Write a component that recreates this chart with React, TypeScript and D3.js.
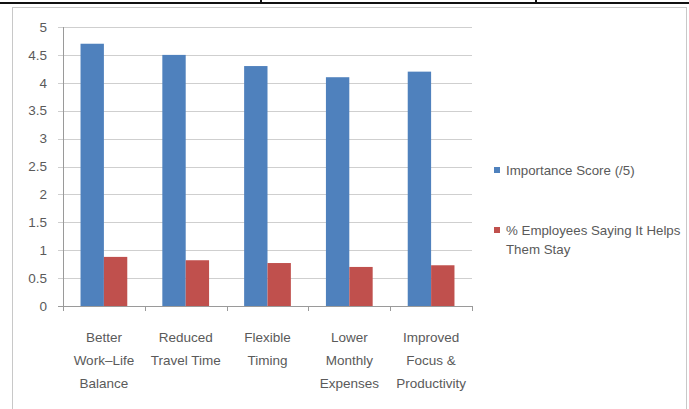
import React from 'react';
import * as d3 from 'd3';

const categories: string[][] = [
  ['Better', 'Work\u2013Life', 'Balance'],
  ['Reduced', 'Travel Time'],
  ['Flexible', 'Timing'],
  ['Lower', 'Monthly', 'Expenses'],
  ['Improved', 'Focus &', 'Productivity'],
];
const importanceScore = [4.7, 4.5, 4.3, 4.1, 4.2];
const pctStay = [0.88, 0.82, 0.77, 0.7, 0.73];
const yTicks = [0, 0.5, 1, 1.5, 2, 2.5, 3, 3.5, 4, 4.5, 5];
const legendBlue = ['Importance Score (/5)'];
const legendRed = ['% Employees Saying It Helps', 'Them Stay'];

const W = 689;
const H = 409;
const plot = { left: 63, right: 472, top: 27, bottom: 306 };
const colors = ['#4F81BD', '#C0504D'];
const textColor = '#5a5a5a';
const font = '"Liberation Sans", Arial, sans-serif';

const App: React.FC = () => {
  const x = d3
    .scaleBand<number>()
    .domain(d3.range(categories.length))
    .range([plot.left, plot.right]);
  const y = d3.scaleLinear().domain([0, 5]).range([plot.bottom, plot.top]);
  const barW = x.bandwidth() / 3.5;
  const series = [importanceScore, pctStay];

  return (
    <svg
      width={W}
      height={H}
      style={{ position: 'absolute', left: 0, top: 0, background: '#fff' }}
      fontFamily={font}
    >
      {/* table border above the chart */}
      <line x1={0} x2={W} y1={3} y2={3} stroke="#111" strokeWidth={2} />
      <line x1={261} x2={261} y1={0} y2={4} stroke="#111" strokeWidth={2} />
      <line x1={536} x2={536} y1={0} y2={4} stroke="#111" strokeWidth={2} />

      {/* chart frame */}
      <rect x={12.5} y={7.5} width={674} height={410} fill="#fff" stroke="#c8c8c8" strokeWidth={1} />

      {/* gridlines and y ticks */}
      {yTicks.map((t) => (
        <g key={t}>
          <line
            x1={plot.left - 5}
            x2={plot.right}
            y1={Math.round(y(t)) + 0.5}
            y2={Math.round(y(t)) + 0.5}
            stroke={t === 0 ? '#9a9a9a' : '#cfcfcf'}
          />
          <text x={47} y={y(t)} dy="0.35em" textAnchor="end" fontSize={13.5} fill={textColor}>
            {t}
          </text>
        </g>
      ))}
      <line x1={plot.left + 0.5} x2={plot.left + 0.5} y1={plot.top} y2={plot.bottom} stroke="#9a9a9a" />

      {/* x-axis category ticks */}
      {d3.range(categories.length + 1).map((i) => {
        const xx = Math.round(plot.left + i * x.step()) + 0.5;
        return <line key={i} x1={xx} x2={xx} y1={plot.bottom} y2={plot.bottom + 5} stroke="#9a9a9a" />;
      })}

      {/* bars */}
      {series.map((vals, s) =>
        vals.map((v, i) => {
          const cx = (x(i) as number) + x.bandwidth() / 2;
          const bx = cx - barW + s * barW;
          return (
            <rect
              key={`${s}-${i}`}
              x={bx}
              y={y(v)}
              width={barW}
              height={y(0) - y(v)}
              fill={colors[s]}
            />
          );
        })
      )}

      {/* category labels */}
      {categories.map((lines, i) => {
        const cx = (x(i) as number) + x.bandwidth() / 2;
        return (
          <text key={i} x={cx} textAnchor="middle" fontSize={13.5} fill={textColor}>
            {lines.map((l, j) => (
              <tspan key={j} x={cx} y={342 + j * 23}>
                {l}
              </tspan>
            ))}
          </text>
        );
      })}

      {/* legend */}
      <rect x={494} y={167} width={6} height={6} fill={colors[0]} />
      <text fontSize={13.3} fill={textColor}>
        {legendBlue.map((l, j) => (
          <tspan key={j} x={506} y={175 + j * 19}>
            {l}
          </tspan>
        ))}
      </text>
      <rect x={494} y={227} width={6} height={6} fill={colors[1]} />
      <text fontSize={13.3} fill={textColor}>
        {legendRed.map((l, j) => (
          <tspan key={j} x={506} y={235 + j * 19}>
            {l}
          </tspan>
        ))}
      </text>
    </svg>
  );
};

export default App;
